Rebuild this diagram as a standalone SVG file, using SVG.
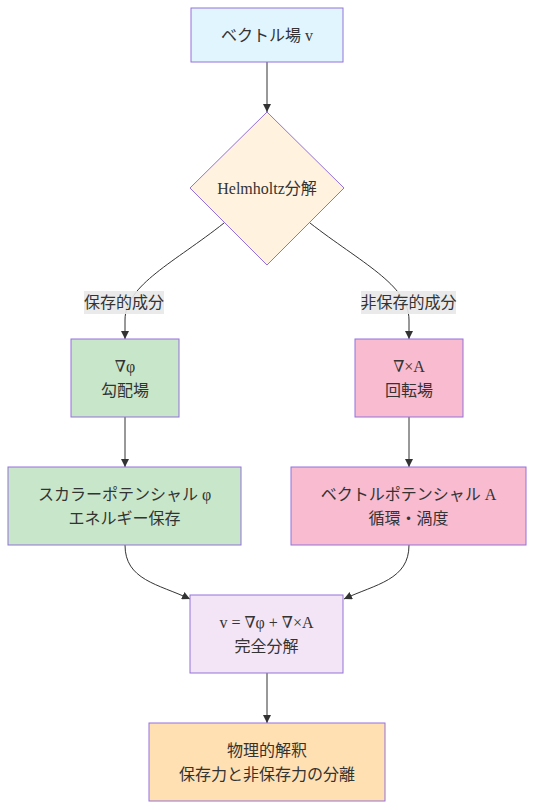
<svg xmlns="http://www.w3.org/2000/svg" width="535" height="810" viewBox="0 0 535 810">
<defs>
<marker id="arr" viewBox="0 0 10 10" refX="10" refY="5" markerWidth="8" markerHeight="8" markerUnits="userSpaceOnUse" orient="auto">
<path d="M0,0 L10,5 L0,10 z" fill="#333"/>
</marker>
<style>
.n{stroke:#9370db;stroke-width:1}
.t{font-family:"Liberation Serif","DejaVu Serif","Noto Sans CJK JP",serif;font-size:16px;fill:#333;text-anchor:middle;dominant-baseline:central}
.e{fill:none;stroke:#333;stroke-width:1;marker-end:url(#arr)}
.lb{fill:#e8e8e8;opacity:0.9}
</style>
</defs>
<rect width="535" height="810" fill="#fff"/>
<g id="edges">
<path class="e" d="M267,62 L267,112"/>
<path class="e" d="M224,223 C175,262 125,285 125,320 L125,339"/>
<path class="e" d="M310,223 C360,262 409,285 409,320 L409,339"/>
<path class="e" d="M125,417 L125,467"/>
<path class="e" d="M409,417 L409,467"/>
<path class="e" d="M125,545 C125,580 158,584 190,599"/>
<path class="e" d="M409,545 C409,580 376,584 344,599"/>
<path class="e" d="M267,673 L267,723"/>
<rect class="lb" x="84" y="291" width="80" height="23"/>
<text class="t" x="124" y="302">保存的成分</text>
<rect class="lb" x="361" y="291" width="95" height="23"/>
<text class="t" x="408.5" y="302">非保存的成分</text>
</g>
<g id="v">
<rect class="n" x="191" y="8" width="152" height="54" fill="#e1f5fe"/>
<text class="t" x="267" y="35">ベクトル場 v</text>
</g>
<g id="helmholtz">
<polygon class="n" points="267,112 344,188 267,265 190,188" fill="#fff3e0"/>
<text class="t" x="267" y="188">Helmholtz分解</text>
</g>
<g id="grad">
<rect class="n" x="71" y="339" width="108" height="78" fill="#c8e6c9"/>
<text class="t" x="125" y="366">∇φ</text>
<text class="t" x="125" y="390">勾配場</text>
</g>
<g id="curl">
<rect class="n" x="355" y="339" width="108" height="78" fill="#f8bbd0"/>
<text class="t" x="409" y="366">∇×A</text>
<text class="t" x="409" y="390">回転場</text>
</g>
<g id="scalar">
<rect class="n" x="8" y="467" width="233" height="78" fill="#c8e6c9"/>
<text class="t" x="124.5" y="494">スカラーポテンシャル φ</text>
<text class="t" x="124.5" y="518">エネルギー保存</text>
</g>
<g id="vector">
<rect class="n" x="291" y="467" width="235" height="78" fill="#f8bbd0"/>
<text class="t" x="408.5" y="494">ベクトルポテンシャル A</text>
<text class="t" x="408.5" y="518">循環・渦度</text>
</g>
<g id="full">
<rect class="n" x="190" y="595" width="153" height="78" fill="#f3e5f5"/>
<text class="t" x="266.5" y="622">v = ∇φ + ∇×A</text>
<text class="t" x="266.5" y="646">完全分解</text>
</g>
<g id="phys">
<rect class="n" x="149" y="723" width="236" height="78" fill="#ffe0b2"/>
<text class="t" x="267" y="750">物理的解釈</text>
<text class="t" x="267" y="774">保存力と非保存力の分離</text>
</g>
</svg>
